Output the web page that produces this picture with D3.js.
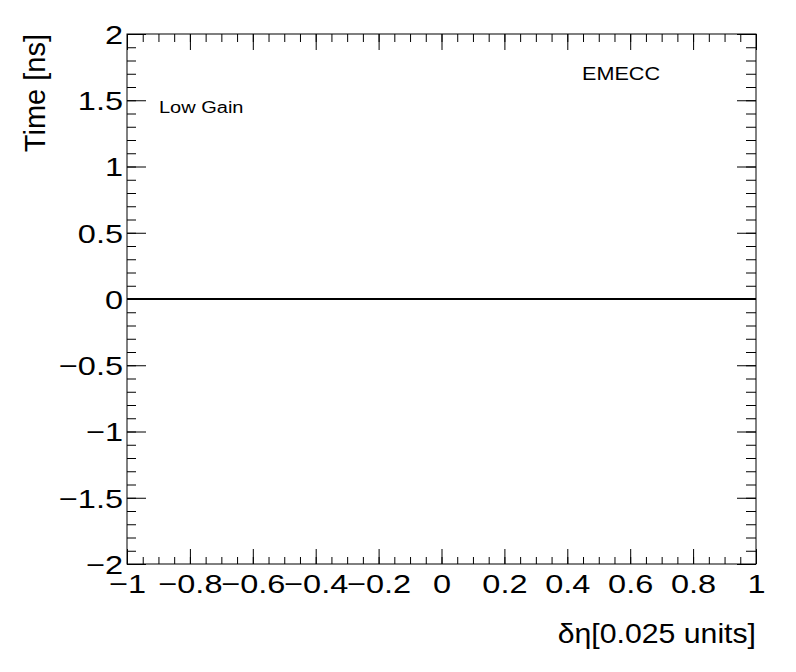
<!DOCTYPE html>
<html>
<head>
<meta charset="utf-8">
<script src="https://cdn.jsdelivr.net/npm/d3@7"></script>
<style>
  body { margin: 0; background: #fff; }
  text { font-family: "Liberation Sans", Arial, sans-serif; fill: #000; }
</style>
</head>
<body>
<svg width="796" height="672"></svg>
<script>
const xDomain = [-1, 1]
const yDomain = [-2, 2]
const xTicks = [-1, -0.8, -0.6, -0.4, -0.2, 0, 0.2, 0.4, 0.6, 0.8, 1]
const yTicks = [-2, -1.5, -1, -0.5, 0, 0.5, 1, 1.5, 2]
const lineX = [-1, 1]
const lineY = [0, 0]
const labels = { x: 'δη[0.025 units]', y: 'Time [ns]', gain: 'Low Gain', region: 'EMECC' }

const svg = d3.select('svg')
const margin = { top: 34, right: 40, bottom: 108, left: 127 }
const width = +svg.attr('width')
const height = +svg.attr('height')
const innerWidth = width - margin.left - margin.right
const innerHeight = height - margin.top - margin.bottom

const xScale = d3.scaleLinear().domain(xDomain).range([0, innerWidth])
const yScale = d3.scaleLinear().domain(yDomain).range([innerHeight, 0])

const fmt = d => (d < 0 ? '\u2212' : '') + Math.abs(d)
const wide = 1.25 // reference glyphs are drawn wider than the font

const g = svg.append('g')
  .attr('transform', `translate(${margin.left}, ${margin.top})`)

const xMinor = d3.range(-1, 1.0001, 0.05).map(d => +d.toFixed(2))
const yMinor = d3.range(-2, 2.0001, 0.1).map(d => +d.toFixed(2))

const addAxis = (axis, values, size, transform, format) => {
  const a = g.append('g').attr('transform', transform)
  a.call(axis.tickValues(values).tickSize(size).tickFormat(format || ''))
  a.select('.domain').remove()
  a.selectAll('line').attr('stroke', '#000').attr('stroke-width', 1)
  if (!format) a.selectAll('text').remove()
  return a
}

// bottom + top
addAxis(d3.axisBottom(xScale), xMinor, -7, `translate(0, ${innerHeight})`)
const xb = addAxis(d3.axisBottom(xScale).tickPadding(11), xTicks, -15, `translate(0, ${innerHeight})`, fmt)
xb.selectAll('text')
  .attr('font-size', 26)
  .attr('dy', '0.68em')
  .attr('transform', `scale(${wide}, 1)`)

addAxis(d3.axisTop(xScale), xMinor, -8, 'translate(0, 0)')
addAxis(d3.axisTop(xScale), xTicks, -16, 'translate(0, 0)')

// left + right
addAxis(d3.axisLeft(yScale), yMinor, -9, 'translate(0, 0)')
const yl = addAxis(d3.axisLeft(yScale), yTicks, -19, 'translate(0, 0)', fmt)
yl.selectAll('text')
  .attr('font-size', 26)
  .attr('x', -4 / wide)
  .attr('dy', '0.36em')
  .attr('transform', `scale(${wide}, 1)`)

addAxis(d3.axisRight(yScale), yMinor, -10, `translate(${innerWidth}, 0)`)
addAxis(d3.axisRight(yScale), yTicks, -19, `translate(${innerWidth}, 0)`)

// frame
g.append('rect')
  .attr('width', innerWidth)
  .attr('height', innerHeight)
  .attr('fill', 'none')
  .attr('stroke', '#000')
  .attr('stroke-width', 1)

// zero line
g.append('line')
  .attr('x1', xScale(lineX[0]))
  .attr('x2', xScale(lineX[1]))
  .attr('y1', yScale(lineY[0]))
  .attr('y2', yScale(lineY[1]))
  .attr('stroke', '#000')
  .attr('stroke-width', 2)

// titles
svg.append('text')
  .attr('transform', `translate(${margin.left + innerWidth}, 643) scale(1.08, 1)`)
  .attr('text-anchor', 'end')
  .attr('font-size', 28)
  .text(labels.x)

svg.append('text')
  .attr('transform', `translate(45, ${margin.top}) rotate(-90)`)
  .attr('text-anchor', 'end')
  .attr('font-size', 29)
  .text(labels.y)

svg.append('text')
  .attr('transform', 'translate(159, 113) scale(1.25, 1)')
  .attr('font-size', 16)
  .text(labels.gain)

svg.append('text')
  .attr('transform', 'translate(582, 80) scale(1.2, 1)')
  .attr('font-size', 18)
  .text(labels.region)
</script>
</body>
</html>
